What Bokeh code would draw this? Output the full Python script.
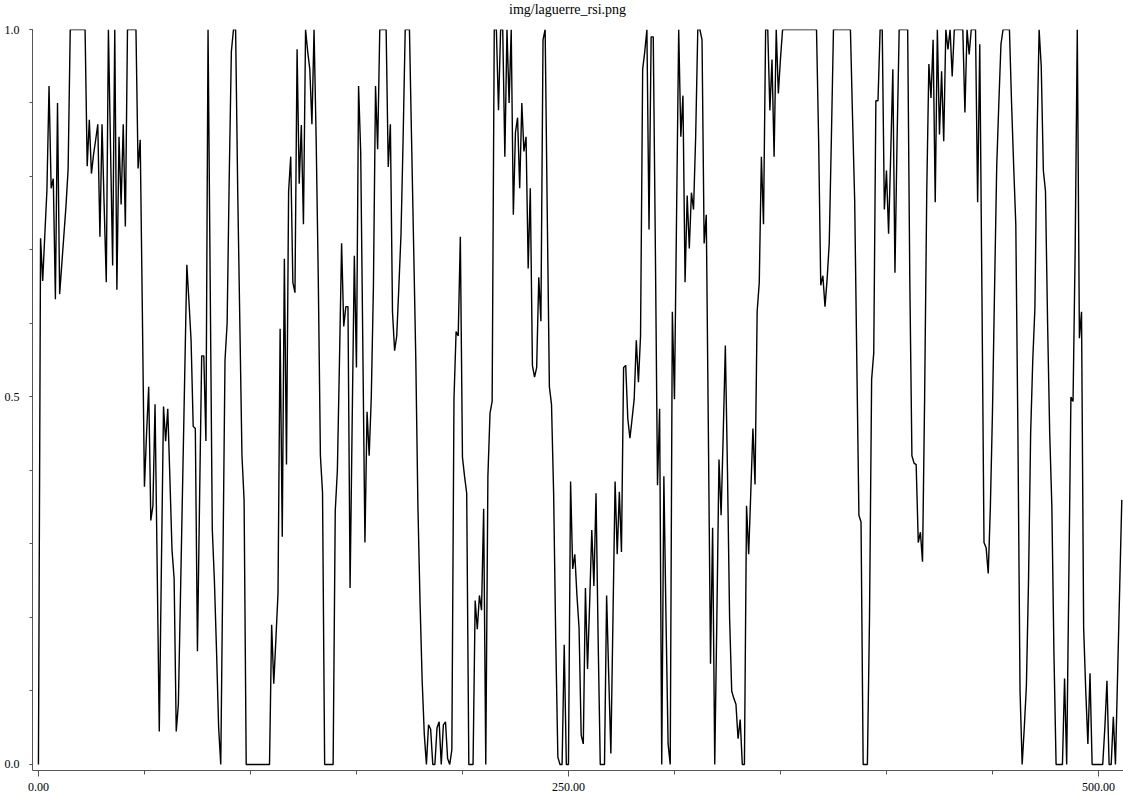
from bokeh.plotting import figure
from bokeh.models import Range1d, FixedTicker, NumeralTickFormatter, Div
from bokeh.layouts import column
from bokeh.embed import file_html
from bokeh.resources import INLINE

# Laguerre RSI values (one per bar index)
rsi_values = [
    0.0, 0.716, 0.658, 0.72, 0.781, 0.923, 0.784, 0.797, 0.633, 0.9,
    0.64, 0.68, 0.72, 0.76, 0.81, 1.0, 1.0, 1.0, 1.0, 1.0,
    1.0, 1.0, 1.0, 0.814, 0.877, 0.804, 0.83, 0.85, 0.871, 0.718,
    0.871, 0.76, 0.656, 1.0, 0.84, 0.679, 1.0, 0.646, 0.854, 0.762,
    0.871, 0.732, 1.0, 1.0, 1.0, 1.0, 1.0, 0.811, 0.85, 0.62,
    0.378, 0.45, 0.514, 0.332, 0.352, 0.49, 0.27, 0.045, 0.27, 0.487,
    0.44, 0.484, 0.39, 0.292, 0.253, 0.045, 0.082, 0.23, 0.38, 0.53,
    0.68, 0.63, 0.577, 0.46, 0.457, 0.154, 0.36, 0.556, 0.556, 0.44,
    1.0, 0.66, 0.32, 0.25, 0.155, 0.05, 0.0, 0.27, 0.55, 0.6,
    0.8, 0.97, 1.0, 1.0, 0.78, 0.6, 0.42, 0.36, 0.0, 0.0,
    0.0, 0.0, 0.0, 0.0, 0.0, 0.0, 0.0, 0.0, 0.0, 0.0,
    0.19, 0.11, 0.17, 0.233, 0.593, 0.31, 0.688, 0.408, 0.78, 0.827,
    0.656, 0.642, 0.973, 0.79, 0.87, 0.735, 1.0, 0.97, 0.946, 0.871,
    1.0, 0.85, 0.66, 0.42, 0.37, 0.0, 0.0, 0.0, 0.0, 0.0,
    0.345, 0.4, 0.55, 0.709, 0.596, 0.623, 0.623, 0.24, 0.47, 0.692,
    0.54, 0.923, 0.834, 0.57, 0.302, 0.48, 0.42, 0.5, 0.65, 0.923,
    0.837, 1.0, 1.0, 1.0, 1.0, 0.813, 0.871, 0.616, 0.563, 0.583,
    0.65, 0.72, 0.85, 1.0, 1.0, 1.0, 0.85, 0.702, 0.55, 0.35,
    0.22, 0.114, 0.041, 0.0, 0.054, 0.048, 0.0, 0.0, 0.05, 0.058,
    0.0, 0.054, 0.058, 0.008, 0.0, 0.02, 0.497, 0.589, 0.583, 0.718,
    0.418, 0.392, 0.369, 0.0, 0.0, 0.0, 0.223, 0.184, 0.23, 0.21,
    0.348, 0.0, 0.392, 0.478, 0.494, 1.0, 1.0, 0.89, 1.0, 1.0,
    0.827, 1.0, 0.9, 1.0, 0.748, 0.86, 0.88, 0.784, 0.9, 0.834,
    0.854, 0.675, 0.784, 0.543, 0.527, 0.54, 0.663, 0.603, 0.986, 1.0,
    0.75, 0.514, 0.49, 0.37, 0.17, 0.01, 0.0, 0.0, 0.163, 0.0,
    0.0, 0.385, 0.266, 0.286, 0.23, 0.186, 0.04, 0.028, 0.24, 0.13,
    0.22, 0.319, 0.243, 0.369, 0.17, 0.0, 0.0, 0.0, 0.23, 0.12,
    0.015, 0.2, 0.385, 0.286, 0.371, 0.289, 0.54, 0.543, 0.47, 0.444,
    0.47, 0.497, 0.577, 0.52, 0.583, 0.946, 0.97, 1.0, 0.728, 0.99,
    0.99, 0.7, 0.38, 0.484, 0.0, 0.392, 0.2, 0.028, 0.0, 0.616,
    0.497, 0.75, 1.0, 0.854, 0.91, 0.656, 0.774, 0.702, 0.778, 0.755,
    0.854, 1.0, 1.0, 0.986, 0.709, 0.748, 0.45, 0.137, 0.322, 0.0,
    0.2, 0.415, 0.339, 0.45, 0.57, 0.4, 0.2, 0.1, 0.09, 0.082,
    0.035, 0.061, 0.0, 0.0, 0.352, 0.286, 0.37, 0.457, 0.381, 0.616,
    0.656, 0.827, 0.735, 1.0, 1.0, 0.89, 0.959, 0.827, 1.0, 0.913,
    0.96, 1.0, 1.0, 1.0, 1.0, 1.0, 1.0, 1.0, 1.0, 1.0,
    1.0, 1.0, 1.0, 1.0, 1.0, 1.0, 1.0, 1.0, 0.85, 0.652,
    0.665, 0.623, 0.66, 0.709, 0.85, 1.0, 1.0, 1.0, 1.0, 1.0,
    1.0, 1.0, 1.0, 1.0, 0.88, 0.768, 0.55, 0.339, 0.33, 0.0,
    0.0, 0.0, 0.2, 0.524, 0.56, 0.903, 0.903, 1.0, 1.0, 0.755,
    0.808, 0.722, 0.83, 0.946, 0.669, 0.85, 1.0, 1.0, 1.0, 1.0,
    1.0, 0.66, 0.42, 0.41, 0.408, 0.302, 0.316, 0.276, 0.5, 0.78,
    0.953, 0.907, 0.986, 0.765, 1.0, 0.857, 0.943, 0.848, 1.0, 0.973,
    1.0, 0.936, 1.0, 1.0, 1.0, 1.0, 1.0, 0.887, 1.0, 0.966,
    1.0, 1.0, 1.0, 0.765, 0.98, 0.65, 0.302, 0.295, 0.26, 0.35,
    0.48, 0.65, 0.814, 0.9, 0.98, 1.0, 1.0, 1.0, 1.0, 0.9,
    0.814, 0.735, 0.45, 0.1, 0.0, 0.05, 0.107, 0.25, 0.45, 0.55,
    0.62, 0.85, 1.0, 0.95, 0.808, 0.78, 0.6, 0.45, 0.352, 0.15,
    0.0, 0.0, 0.0, 0.0, 0.117, 0.0, 0.25, 0.5, 0.494, 0.7,
    1.0, 0.58, 0.616, 0.186, 0.1, 0.028, 0.124, 0.0, 0.0, 0.0,
    0.0, 0.0, 0.0, 0.05, 0.114, 0.0, 0.0, 0.065, 0.0, 0.12,
    0.24, 0.36,
]
bar_index = list(range(len(rsi_values)))

title_text = "img/laguerre_rsi.png"
x_major_ticks = [0, 250, 500]
x_minor_ticks = [0, 50, 100, 150, 200, 250, 300, 350, 400, 450, 500]
y_major_ticks = [0.0, 0.5, 1.0]
y_minor_ticks = [0.0, 0.1, 0.2, 0.3, 0.4, 0.5, 0.6, 0.7, 0.8, 0.9, 1.0]

FONT = "Liberation Serif"

title_div = Div(
    text=title_text, width=1123, height=20, margin=(0, 0, 0, 0),
    styles={
        "font-family": FONT, "font-size": "14px", "color": "#000000",
        "line-height": "20px", "padding-left": "509px", "white-space": "nowrap",
    },
)

p = figure(
    width=1123, height=774,
    output_backend="svg", toolbar_location=None, tools="",
    x_range=Range1d(-2.8, 511.8), y_range=Range1d(-0.0082, 1.0),
    min_border_left=32, min_border_right=0, min_border_top=9, min_border_bottom=24,
)
p.outline_line_color = None
p.xgrid.visible = False
p.ygrid.visible = False

p.line(bar_index, rsi_values, line_color="#000000", line_width=1.4)

xa = p.xaxis[0]
xa.ticker = FixedTicker(ticks=x_major_ticks, minor_ticks=x_minor_ticks)
xa.formatter = NumeralTickFormatter(format="0.00")
xa.major_label_text_font = FONT
xa.major_label_text_font_size = "12px"
xa.major_label_text_color = "#000000"
xa.axis_line_color = "#555555"
xa.major_tick_line_color = "#555555"
xa.minor_tick_line_color = "#555555"
xa.major_tick_out = 6
xa.major_tick_in = 0
xa.minor_tick_out = 4
xa.minor_tick_in = 0
xa.major_label_standoff = 6

ya = p.yaxis[0]
ya.ticker = FixedTicker(ticks=y_major_ticks, minor_ticks=y_minor_ticks)
ya.formatter = NumeralTickFormatter(format="0.0")
ya.major_label_text_font = FONT
ya.major_label_text_font_size = "12px"
ya.major_label_text_color = "#000000"
ya.axis_line_color = "#555555"
ya.major_tick_line_color = "#555555"
ya.minor_tick_line_color = "#555555"
ya.major_tick_out = 3
ya.major_tick_in = 0
ya.minor_tick_out = 3
ya.minor_tick_in = 0
ya.major_label_standoff = 10

layout = column(title_div, p, spacing=0)
open("out.html", "w").write(file_html(layout, INLINE))
